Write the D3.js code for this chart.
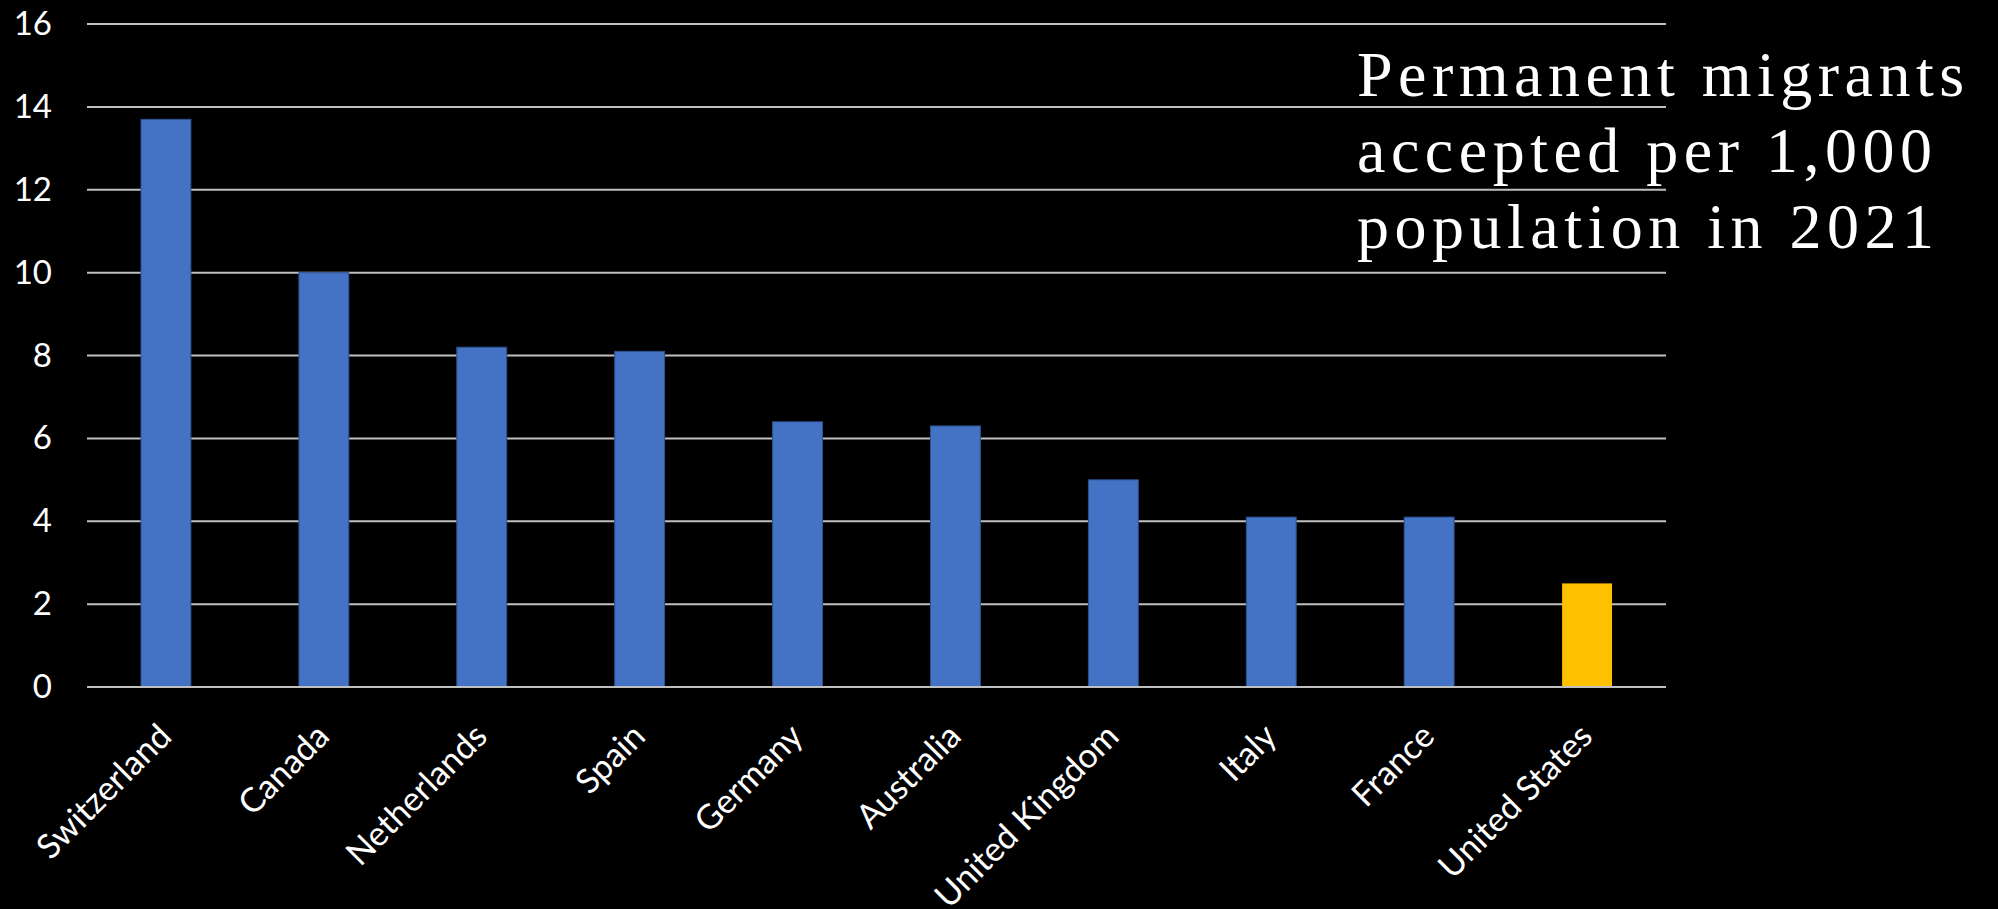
<!DOCTYPE html>
<html><head><meta charset="utf-8">
<script src="https://cdn.jsdelivr.net/npm/d3@7"></script>
<style>
html,body{margin:0;padding:0;background:#000;}
svg{display:block;}
</style></head>
<body><svg id="chart" width="1998" height="909"></svg>
<script>
const categories = ["Switzerland","Canada","Netherlands","Spain","Germany","Australia","United Kingdom","Italy","France","United States"];
const values = [13.7, 10.0, 8.2, 8.1, 6.4, 6.3, 5.0, 4.1, 4.1, 2.5];
const highlight = ["United States"];
const yTicks = [0, 2, 4, 6, 8, 10, 12, 14, 16];
const titleLines = ["Permanent migrants", "accepted per 1,000", "population in 2021"];

(function(){
const svg = d3.select("#chart");
svg.append("rect").attr("width",1998).attr("height",909).attr("fill","#000");

const mLeft = 87, mRight = 1666, mTop = 24, mBottom = 687;
const x = d3.scaleBand().domain(categories).range([mLeft, mRight]).padding(0);
const y = d3.scaleLinear().domain([0, 16]).range([mBottom, mTop]);
const barW = x.bandwidth() * 0.316;

svg.append("g").selectAll("line").data(yTicks).join("line")
  .attr("x1", mLeft).attr("x2", mRight)
  .attr("y1", d => y(d)).attr("y2", d => y(d))
  .attr("stroke", "#bfbfbf").attr("stroke-width", 2);

const yAxis = d3.axisLeft(y).tickValues(yTicks).tickSize(0).tickPadding(35);
const gy = svg.append("g").attr("transform", `translate(${mLeft},0)`).call(yAxis);
gy.select(".domain").remove();
gy.selectAll("text").attr("fill", "#fff").attr("font-family", "Lato, 'Open Sans', sans-serif").attr("font-size", 33);

svg.append("g").selectAll("rect").data(categories).join("rect")
  .attr("x", (d) => x(d) + x.bandwidth()/2 - barW/2)
  .attr("width", barW)
  .attr("y", (d,i) => y(values[i]))
  .attr("height", (d,i) => y(0) - y(values[i]))
  .attr("fill", d => highlight.includes(d) ? "#FFC000" : "#4472C4")
  .attr("stroke", d => highlight.includes(d) ? "none" : "#2F528F")
  .attr("stroke-width", 1);

svg.append("line").attr("x1", mLeft).attr("x2", mRight).attr("y1", y(0)).attr("y2", y(0))
  .attr("stroke", "#bfbfbf").attr("stroke-width", 2);

const xAxis = d3.axisBottom(x).tickSize(0).tickPadding(0);
const gx = svg.append("g").attr("transform", `translate(0,${mBottom})`).call(xAxis);
gx.select(".domain").remove();
gx.selectAll("text")
  .attr("fill", "#fff")
  .attr("font-family", "Lato, 'Open Sans', sans-serif")
  .attr("font-size", 34)
  .attr("text-anchor", "end")
  .attr("dy", "0.35em")
  .attr("transform", "translate(-1,43) rotate(-45)");

const t = svg.append("text").attr("x", 1357).attr("y", 96)
  .attr("fill", "#fff").attr("font-family", "'Liberation Serif', 'Times New Roman', serif")
  .attr("font-size", 64).attr("letter-spacing", 5.5);
t.selectAll("tspan").data(titleLines).join("tspan")
  .attr("x", 1357).attr("dy", (d,i) => i === 0 ? 0 : 76).text(d => d);
})();
</script></body></html>
